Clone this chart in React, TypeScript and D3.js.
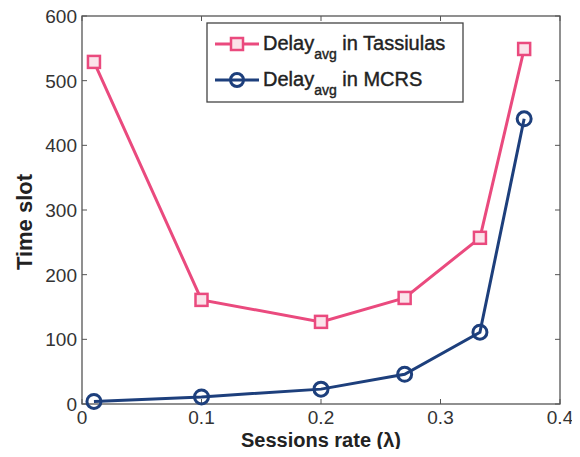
import { useEffect, useRef } from 'react';
import * as d3 from 'd3';

const rates = [0.01, 0.1, 0.2, 0.27, 0.333, 0.37];
const tassiulas = [529, 161, 127, 164, 257, 549];
const mcrs = [4, 11, 23, 46, 111, 441];
const xTicks = [0, 0.1, 0.2, 0.3, 0.4];
const yTicks = [0, 100, 200, 300, 400, 500, 600];

const PINK = '#ea4a7e';
const BLUE = '#1d3f7c';

const App = () => {
  const svgRef = useRef<SVGSVGElement>(null);

  useEffect(() => {
    const svg = d3.select(svgRef.current);
    svg.selectAll('*').remove();

    const left = 82, right = 560, top = 16, bottom = 404;
    const font = 'Liberation Sans, Arial, sans-serif';

    const x = d3.scaleLinear().domain([0, 0.4]).range([left, right]);
    const y = d3.scaleLinear().domain([0, 600]).range([bottom, top]);

    svg.append('rect').attr('width', 580).attr('height', 457).attr('fill', '#fff');

    // Frame
    svg.append('rect')
      .attr('x', left).attr('y', top)
      .attr('width', right - left).attr('height', bottom - top)
      .attr('fill', 'none').attr('stroke', '#555').attr('stroke-width', 1.3);

    // Ticks (inward, all sides)
    const tl = 5;
    xTicks.forEach(t => {
      svg.append('line').attr('x1', x(t)).attr('x2', x(t)).attr('y1', bottom).attr('y2', bottom - tl)
        .attr('stroke', '#555');
      svg.append('line').attr('x1', x(t)).attr('x2', x(t)).attr('y1', top).attr('y2', top + tl)
        .attr('stroke', '#555');
      svg.append('text').attr('x', x(t)).attr('y', bottom + 20)
        .attr('text-anchor', 'middle').attr('font-family', font).attr('font-size', 19)
        .attr('fill', '#333').text(t === 0 ? '0' : d3.format('.1f')(t));
    });
    yTicks.forEach(t => {
      svg.append('line').attr('x1', left).attr('x2', left + tl).attr('y1', y(t)).attr('y2', y(t))
        .attr('stroke', '#555');
      svg.append('line').attr('x1', right).attr('x2', right - tl).attr('y1', y(t)).attr('y2', y(t))
        .attr('stroke', '#555');
      svg.append('text').attr('x', left - 5).attr('y', y(t) + 7)
        .attr('text-anchor', 'end').attr('font-family', font).attr('font-size', 19)
        .attr('fill', '#333').text(t);
    });

    // Axis labels
    svg.append('text').attr('x', 321).attr('y', 447)
      .attr('text-anchor', 'middle').attr('font-family', font).attr('font-size', 20)
      .attr('font-weight', 'bold').attr('fill', '#222').text('Sessions rate (λ)');
    svg.append('text').attr('transform', 'translate(32,222) rotate(-90)')
      .attr('text-anchor', 'middle').attr('font-family', font).attr('font-size', 22)
      .attr('font-weight', 'bold').attr('fill', '#222').text('Time slot');

    const line = d3.line<number>().x((_, i) => x(rates[i])).y(d => y(d));

    // Tassiulas
    svg.append('path').datum(tassiulas).attr('d', line)
      .attr('fill', 'none').attr('stroke', PINK).attr('stroke-width', 3);
    svg.selectAll('.sq').data(tassiulas).enter().append('rect')
      .attr('x', (_, i) => x(rates[i]) - 6).attr('y', d => y(d) - 6)
      .attr('width', 12).attr('height', 12)
      .attr('fill', '#fbe3ea').attr('stroke', PINK).attr('stroke-width', 2.5);

    // MCRS
    svg.append('path').datum(mcrs).attr('d', line)
      .attr('fill', 'none').attr('stroke', BLUE).attr('stroke-width', 3);
    svg.selectAll('.ci').data(mcrs).enter().append('circle')
      .attr('cx', (_, i) => x(rates[i])).attr('cy', d => y(d)).attr('r', 7)
      .attr('fill', 'none').attr('stroke', BLUE).attr('stroke-width', 3);

    // Legend
    const lg = svg.append('g');
    lg.append('rect').attr('x', 207).attr('y', 23).attr('width', 256).attr('height', 79)
      .attr('fill', '#fff').attr('stroke', '#444').attr('stroke-width', 1.3);
    const items = [
      { color: PINK, label: ' in Tassiulas', marker: 'sq', yy: 44 },
      { color: BLUE, label: ' in MCRS', marker: 'ci', yy: 80 },
    ];
    items.forEach(it => {
      lg.append('line').attr('x1', 215).attr('x2', 259).attr('y1', it.yy).attr('y2', it.yy)
        .attr('stroke', it.color).attr('stroke-width', 3);
      if (it.marker === 'sq') {
        lg.append('rect').attr('x', 231).attr('y', it.yy - 6).attr('width', 12).attr('height', 12)
          .attr('fill', '#fbe3ea').attr('stroke', it.color).attr('stroke-width', 2.5);
      } else {
        lg.append('circle').attr('cx', 237).attr('cy', it.yy).attr('r', 6.5)
          .attr('fill', 'none').attr('stroke', it.color).attr('stroke-width', 3);
      }
      const t = lg.append('text').attr('x', 263).attr('y', it.yy + 6)
        .attr('font-family', font).attr('font-size', 20).attr('fill', '#222')
        .attr('stroke', '#222').attr('stroke-width', 0.4);
      t.append('tspan').text('Delay');
      t.append('tspan').attr('font-size', 14).attr('dy', 9).text('avg');
      t.append('tspan').attr('dy', -9).text(it.label);
    });
  }, []);

  return <svg ref={svgRef} width={580} height={457} style={{ display: 'block', margin: -8 }} />;
};

export default App;
